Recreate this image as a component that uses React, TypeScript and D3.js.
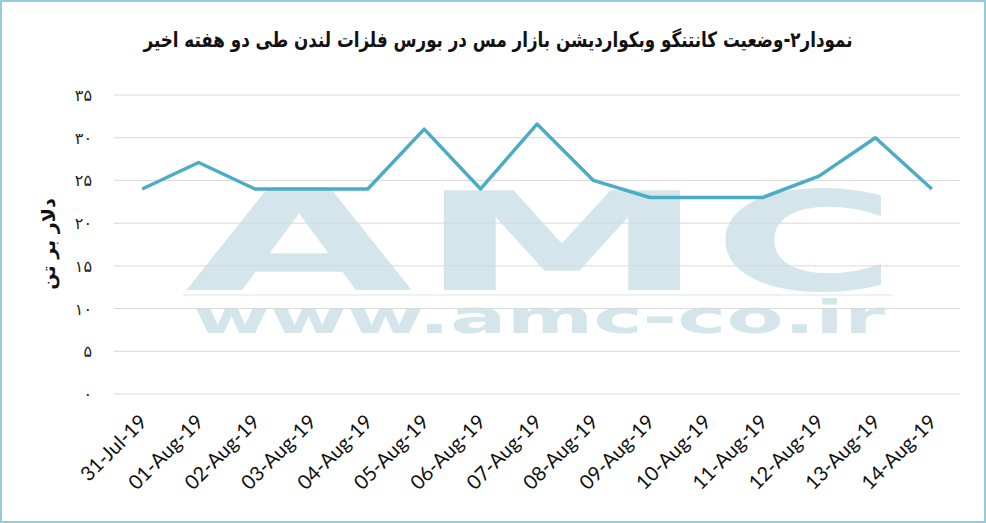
import { useEffect, useRef } from 'react';
import * as d3 from 'd3';

const title = 'نمودار۲-وضعیت کانتنگو وبکواردیشن بازار مس در بورس فلزات لندن طی دو هفته اخیر';
const yTitle = 'دلار بر تن';

const dates = [
  '31-Jul-19', '01-Aug-19', '02-Aug-19', '03-Aug-19', '04-Aug-19',
  '05-Aug-19', '06-Aug-19', '07-Aug-19', '08-Aug-19', '09-Aug-19',
  '10-Aug-19', '11-Aug-19', '12-Aug-19', '13-Aug-19', '14-Aug-19',
];
const spread = [24, 27.1, 24, 24, 24, 31, 24, 31.6, 25, 23, 23, 23, 25.5, 30, 24];
const yTicks = [0, 5, 10, 15, 20, 25, 30, 35];

// watermark letters: [glyph, left, width]
const markLetters: [string, number, number][] = [
  ['A', 185, 228],
  ['M', 417, 290],
  ['C', 713, 184],
];

const toPersian = (n: number) =>
  String(n).replace(/\d/g, (c) => '۰۱۲۳۴۵۶۷۸۹'[+c]);

export default function App() {
  const svgRef = useRef<SVGSVGElement>(null);
  const width = 986;
  const height = 523;

  useEffect(() => {
    if (!svgRef.current) return;
    const svg = d3.select(svgRef.current);
    svg.selectAll('*').remove();

    const plot = { left: 114, right: 960, top: 95, bottom: 394 };

    const x = d3.scalePoint<string>().domain(dates).range([plot.left, plot.right]).padding(0.5);
    const y = d3.scaleLinear().domain([0, 35]).range([plot.bottom, plot.top]);

    svg.append('rect')
      .attr('width', width).attr('height', height).attr('fill', '#fff');

    // Watermark
    const wm = '#d4e6eb';
    svg.append('g')
      .selectAll('text')
      .data(markLetters)
      .join('text')
      .attr('x', (d) => d[1]).attr('y', 290)
      .attr('textLength', (d) => d[2]).attr('lengthAdjust', 'spacingAndGlyphs')
      .attr('font-family', 'DejaVu Sans').attr('font-weight', 700)
      .attr('font-size', 137).attr('fill', wm)
      .text((d) => d[0]);
    svg.append('line')
      .attr('x1', 183).attr('x2', 893).attr('y1', 295).attr('y2', 295)
      .attr('stroke', '#eaf3f5').attr('stroke-width', 2);
    svg.append('text')
      .attr('x', 193).attr('y', 333)
      .attr('textLength', 692).attr('lengthAdjust', 'spacingAndGlyphs')
      .attr('font-family', 'DejaVu Sans').attr('font-weight', 700)
      .attr('font-size', 46).attr('fill', wm)
      .text('www.amc-co.ir');

    // Grid
    svg.append('g')
      .selectAll('line')
      .data(yTicks)
      .join('line')
      .attr('x1', plot.left).attr('x2', plot.right)
      .attr('y1', (d) => y(d)).attr('y2', (d) => y(d))
      .attr('stroke', '#d9d9d9').attr('stroke-width', 1);

    // Y labels
    svg.append('g')
      .selectAll('text')
      .data(yTicks)
      .join('text')
      .attr('x', 92).attr('y', (d) => y(d) + 6)
      .attr('text-anchor', 'end')
      .attr('font-family', 'DejaVu Sans').attr('font-size', 16)
      .attr('fill', '#222')
      .text((d) => toPersian(d));

    svg.append('text')
      .attr('transform', 'translate(49,244) rotate(-90)')
      .attr('text-anchor', 'middle').attr('dominant-baseline', 'middle')
      .attr('font-family', 'DejaVu Sans').attr('font-weight', 700)
      .attr('font-size', 19).attr('fill', '#111')
      .text(yTitle);

    // X labels
    svg.append('g')
      .selectAll('text')
      .data(dates)
      .join('text')
      .attr('transform', (d) => `translate(${(x(d) ?? 0) + 6},423) rotate(-45)`)
      .attr('text-anchor', 'end')
      .attr('font-family', 'Lato').attr('font-size', 20)
      .attr('fill', '#111')
      .text((d) => d);

    // Line
    const line = d3.line<number>()
      .x((_, i) => x(dates[i]) ?? 0)
      .y((d) => y(d));
    svg.append('path')
      .datum(spread)
      .attr('fill', 'none')
      .attr('stroke', '#4bacc6')
      .attr('stroke-width', 3.5)
      .attr('stroke-linejoin', 'round')
      .attr('d', line);

    // Title
    svg.append('text')
      .attr('x', 498).attr('y', 47)
      .attr('text-anchor', 'middle')
      .attr('direction', 'rtl')
      .attr('textLength', 709).attr('lengthAdjust', 'spacingAndGlyphs')
      .attr('font-family', 'DejaVu Sans').attr('font-weight', 700)
      .attr('font-size', 21).attr('fill', '#111')
      .text(title);

    // Border
    svg.append('rect')
      .attr('x', 1).attr('y', 1).attr('width', width - 2).attr('height', height - 2)
      .attr('fill', 'none').attr('stroke', '#93cddd').attr('stroke-width', 2);
  }, []);

  return (
    <svg
      ref={svgRef}
      width={width}
      height={height}
      style={{ position: 'absolute', left: 0, top: 0 }}
    />
  );
}
